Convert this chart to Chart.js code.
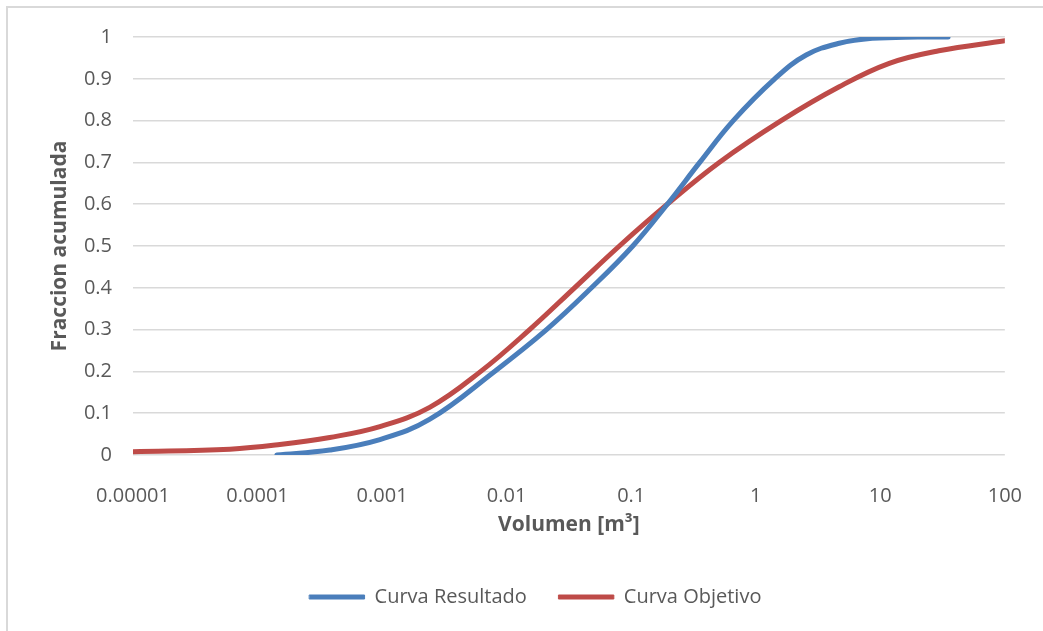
<!DOCTYPE html>
<html>
<head>
<meta charset="utf-8">
<script src="https://cdn.jsdelivr.net/npm/chart.js@4"></script>
<style>
  html, body { margin: 0; padding: 0; background: #ffffff; overflow: hidden; }
  #wrap { position: relative; width: 1043px; height: 631px; }
  #frame { position: absolute; left: 6px; top: 6px; width: 2000px; height: 2000px; border: 2px solid #d9d9d9; box-sizing: border-box; pointer-events: none; }
  canvas { position: absolute; left: 0; top: 0; }
</style>
</head>
<body>
<div id="wrap">
  <div id="frame"></div>
  <canvas id="c" width="1043" height="631"></canvas>
</div>
<script>
// ---- data ----
const seriesNames = ['Curva Resultado', 'Curva Objetivo'];

const xResultado = [0.000143, 0.00038, 0.00096, 0.0024, 0.008, 0.0209, 0.048, 0.103, 0.195, 0.355, 0.66, 1.42, 2.54, 4.68, 8.6, 20, 35];
const yResultado = [0.0, 0.012, 0.037, 0.085, 0.2, 0.3, 0.4, 0.5, 0.6, 0.7, 0.8, 0.9, 0.957, 0.985, 0.997, 1.0, 1.0];

const xObjetivo = [0.00001, 0.00006, 0.000151, 0.00038, 0.00096, 0.00241, 0.0062, 0.0153, 0.0351, 0.0804, 0.195, 0.509, 1.6, 4.68, 11.8, 29.5, 100];
const yObjetivo = [0.008, 0.014, 0.025, 0.042, 0.068, 0.114, 0.2, 0.3, 0.4, 0.5, 0.6, 0.7, 0.8, 0.881, 0.937, 0.967, 0.991];

const xTickLabels = ['0.00001', '0.0001', '0.001', '0.01', '0.1', '1', '10', '100'];
const yTickLabels = ['0', '0.1', '0.2', '0.3', '0.4', '0.5', '0.6', '0.7', '0.8', '0.9', '1'];

const xTitle = 'Volumen [m³]';
const yTitle = 'Fraccion acumulada';

const colors = ['#4A7EBB', '#BE4B48'];

// ---- build ----
const toPoints = (xs, ys) => xs.map((x, i) => ({ x: x, y: ys[i] }));
const FONT = "'Open Sans', 'DejaVu Sans', sans-serif";
const TXT = '#595959';

const legendFix = {
  id: 'legendFix',
  beforeLayout(chart) {
    const lg = chart.legend;
    if (lg && !lg._patched) {
      const f = lg.fit;
      lg.fit = function () { f.call(this); this.height = 76; };
      lg._patched = true;
    }
  }
};

new Chart(document.getElementById('c'), {
  type: 'line',
  data: {
    datasets: [
      {
        label: seriesNames[0],
        data: toPoints(xResultado, yResultado),
        borderColor: colors[0],
        backgroundColor: colors[0],
        borderWidth: 5,
        borderCapStyle: 'round',
        borderJoinStyle: 'round',
        pointRadius: 0,
        tension: 0.4,
        fill: false
      },
      {
        label: seriesNames[1],
        data: toPoints(xObjetivo, yObjetivo),
        borderColor: colors[1],
        backgroundColor: colors[1],
        borderWidth: 5,
        borderCapStyle: 'round',
        borderJoinStyle: 'round',
        pointRadius: 0,
        tension: 0.4,
        fill: false
      }
    ]
  },
  options: {
    responsive: false,
    animation: false,
    devicePixelRatio: 1,
    layout: { padding: { left: 28, right: 0, top: 37, bottom: 0 } },
    plugins: {
      legend: {
        display: true,
        position: 'bottom',
        labels: {
          boxWidth: 55,
          boxHeight: 4,
          padding: 32,
          color: TXT,
          font: { family: FONT, size: 20 },
          generateLabels: (chart) => Chart.defaults.plugins.legend.labels.generateLabels(chart).map(l => Object.assign(l, { lineWidth: 1 }))
        }
      },
      tooltip: { enabled: false }
    },
    scales: {
      x: {
        type: 'logarithmic',
        min: parseFloat(xTickLabels[0]),
        max: parseFloat(xTickLabels[xTickLabels.length - 1]),
        grid: { display: false },
        border: { display: false },
        afterBuildTicks: (s) => { s.ticks = xTickLabels.map(t => ({ value: parseFloat(t) })); },
        afterFit: (s) => { s.height = 100; },
        ticks: {
          autoSkip: false,
          maxRotation: 0,
          padding: 21,
          color: TXT,
          font: { family: FONT, size: 20 },
          callback: (v, i) => xTickLabels[i]
        },
        title: {
          display: true,
          text: xTitle,
          color: TXT,
          font: { family: FONT, size: 21, weight: 'bold' },
          padding: { top: 0, bottom: 17 }
        }
      },
      y: {
        type: 'linear',
        min: parseFloat(yTickLabels[0]),
        max: parseFloat(yTickLabels[yTickLabels.length - 1]),
        afterBuildTicks: (s) => { s.ticks = yTickLabels.map(t => ({ value: parseFloat(t) })); },
        afterFit: (s) => { s.width = 105; },
        grid: { color: '#d9d9d9', lineWidth: 1.5, drawTicks: false },
        border: { display: false },
        ticks: {
          padding: 21,
          color: TXT,
          font: { family: FONT, size: 20 },
          callback: (v, i) => yTickLabels[i]
        },
        title: {
          display: true,
          text: yTitle,
          color: TXT,
          font: { family: FONT, size: 21, weight: 'bold' },
          padding: { top: 19, bottom: 0 }
        }
      },
      yPad: {
        type: 'linear',
        position: 'right',
        display: true,
        grid: { display: false },
        border: { display: false },
        ticks: { display: false },
        afterFit: (s) => { s.width = 37; }
      }
    }
  },
  plugins: [legendFix]
});
</script>
</body>
</html>
